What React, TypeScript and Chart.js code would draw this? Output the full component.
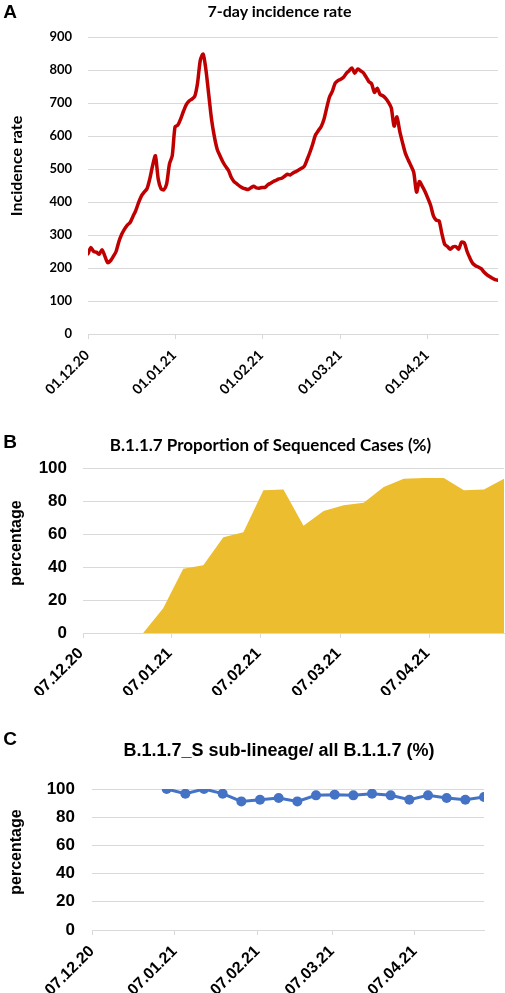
import React, { useEffect, useRef } from "react";
import { Chart, registerables } from "chart.js";

Chart.register(...registerables);

// ---------- Panel A: 7-day incidence rate (daily values from 01.12.20) ----------
const incidenceStart = "01.12.20";
const incidenceRate = [
  243, 262, 250, 248, 242, 255, 236, 216, 222, 235,
  250, 280, 302, 318, 330, 338, 356, 374, 398, 418,
  430, 440, 470, 510, 540, 470, 440, 437, 455, 515,
  540, 628, 633, 652, 675, 695, 706, 712, 720, 760,
  830, 848, 800, 725, 650, 598, 560, 540, 522, 508,
  496, 475, 462, 455, 448, 443, 440, 438, 443, 448,
  443, 442, 444, 444, 452, 457, 462, 466, 470, 472,
  478, 484, 482, 488, 492, 497, 502, 508, 528, 550,
  575, 603, 616, 628, 650, 685, 718, 735, 760, 768,
  772, 778, 790, 798, 806, 790, 803, 798, 792, 779,
  765, 758, 732, 745, 726, 722, 714, 702, 685, 630,
  658, 615, 580, 548, 528, 510, 490, 430, 462, 448,
  432, 412, 390, 358, 345, 343, 305, 272, 265, 257,
  264, 265, 257, 278, 276, 250, 230, 214, 207, 203,
  198, 188, 180, 174, 169, 165, 163,
];
const incidenceTickDates = ["01.12.20", "01.01.21", "01.02.21", "01.03.21", "01.04.21"];

// ---------- Panel B: B.1.1.7 proportion of sequenced cases (%) ----------
const b117Dates = [
  "28.12.20", "04.01.21", "11.01.21", "18.01.21", "25.01.21", "01.02.21", "08.02.21",
  "15.02.21", "22.02.21", "01.03.21", "08.03.21", "15.03.21", "22.03.21", "29.03.21",
  "05.04.21", "12.04.21", "19.04.21", "26.04.21", "03.05.21",
];
const b117Share = [0, 15, 39, 41, 58, 61, 86.5, 87, 65, 74, 77.5, 79, 88.5, 93.5, 94, 94, 86.5, 87, 93.5];

// ---------- Panel C: B.1.1.7_S sub-lineage / all B.1.1.7 (%) ----------
const subDates = [
  "04.01.21", "11.01.21", "18.01.21", "25.01.21", "01.02.21", "08.02.21", "15.02.21",
  "22.02.21", "01.03.21", "08.03.21", "15.03.21", "22.03.21", "29.03.21", "05.04.21",
  "12.04.21", "19.04.21", "26.04.21", "03.05.21",
];
const subShare = [100, 96.7, 100, 96.7, 91.2, 92.4, 93.6, 91.2, 95.5, 96, 95.5, 96.7, 95.5, 92.4, 95.5, 93.6, 92.4, 94.3];

const seqAxisStart = "07.12.20";
const seqAxisEnd = "03.05.21";
const seqTickDates = ["07.12.20", "07.01.21", "07.02.21", "07.03.21", "07.04.21"];

// ---------- helpers ----------
const DAY = 86400000;
function dayNum(s: string): number {
  const [d, m, y] = s.split(".").map(Number);
  return Math.round(Date.UTC(2000 + y, m - 1, d) / DAY);
}
function fmt(n: number): string {
  const dt = new Date(Math.round(n) * DAY);
  const p = (v: number) => String(v).padStart(2, "0");
  return `${p(dt.getUTCDate())}.${p(dt.getUTCMonth() + 1)}.${p(dt.getUTCFullYear() % 100)}`;
}

const GRID = "#d9d9d9";
const LATO = "Lato";
const ARIAL = "'Liberation Sans', Arial, sans-serif";

type OptParams = {
  top: number; right: number;
  xMin: number; xMax: number; xTicks: number[]; xHeight: number; xPad: number; xOffset: number; xFont: any;
  yMax: number; yStep: number; yWidth: number; yPad: number; yFont: any;
};

function buildOptions(p: OptParams): any {
  return {
    responsive: false,
    maintainAspectRatio: false,
    animation: false,
    devicePixelRatio: 1,
    layout: { padding: { top: p.top, right: p.right, left: 0, bottom: 0 } },
    plugins: { legend: { display: false }, tooltip: { enabled: false }, title: { display: false } },
    scales: {
      x: {
        type: "linear",
        min: p.xMin,
        max: p.xMax,
        afterBuildTicks: (s: any) => { s.ticks = p.xTicks.map((v) => ({ value: v })); },
        afterFit: (s: any) => { s.height = p.xHeight; },
        grid: { display: true, drawOnChartArea: false, drawTicks: true, tickLength: 5, color: GRID, lineWidth: 1 },
        border: { display: true, color: GRID, width: 1 },
        ticks: {
          autoSkip: false, maxRotation: 45, minRotation: 45,
          padding: p.xPad, labelOffset: p.xOffset, color: "#000", font: p.xFont,
          callback: (v: any) => fmt(Number(v)),
        },
      },
      y: {
        type: "linear",
        min: 0,
        max: p.yMax,
        afterFit: (s: any) => { s.width = p.yWidth; },
        grid: { color: GRID, drawTicks: false, lineWidth: 1 },
        border: { display: false },
        ticks: { stepSize: p.yStep, padding: p.yPad, color: "#000", font: p.yFont },
      },
    },
  };
}

function ChartCanvas({ config, top, height }: { config: any; top: number; height: number }) {
  const ref = useRef<HTMLCanvasElement | null>(null);
  useEffect(() => {
    if (!ref.current) return;
    const chart = new Chart(ref.current, config);
    return () => chart.destroy();
  }, []);
  return (
    <canvas
      ref={ref}
      width={505}
      height={height}
      style={{ position: "absolute", left: 0, top, width: 505, height, display: "block" }}
    />
  );
}

function Label({ text, x, y, font, rotate }: { text: string; x: number; y: number; font: string; rotate?: boolean }) {
  return (
    <div
      style={{
        position: "absolute", left: x, top: y, font, lineHeight: 1, whiteSpace: "nowrap", color: "#000",
        transform: `translate(-50%, -50%)${rotate ? " rotate(-90deg)" : ""}`,
      }}
    >
      {text}
    </div>
  );
}

export default function App() {
  const aStart = dayNum(incidenceStart);
  const configA = {
    type: "line",
    data: {
      datasets: [{
        data: incidenceRate.map((v, i) => ({ x: aStart + i, y: v })),
        borderColor: "#C00000", borderWidth: 3.5, pointRadius: 0, tension: 0.25, fill: false,
        borderJoinStyle: "round", borderCapStyle: "round",
      }],
    },
    options: buildOptions({
      top: 37, right: 7,
      xMin: aStart, xMax: aStart + incidenceRate.length - 1, xTicks: incidenceTickDates.map(dayNum),
      xHeight: 66, xPad: 8, xOffset: -1, xFont: { family: LATO, weight: "bold", size: 14 },
      yMax: 900, yStep: 100, yWidth: 88, yPad: 16, yFont: { family: LATO, weight: "bold", size: 13 },
    }),
  };

  const configB = {
    type: "line",
    data: {
      datasets: [{
        data: b117Dates.map((d, i) => ({ x: dayNum(d), y: b117Share[i] })),
        borderWidth: 0, borderColor: "rgba(0,0,0,0)", backgroundColor: "#EDBD30",
        pointRadius: 0, tension: 0, fill: "origin",
      }],
    },
    options: buildOptions({
      top: 68, right: 1,
      xMin: dayNum(seqAxisStart), xMax: dayNum(seqAxisEnd), xTicks: seqTickDates.map(dayNum),
      xHeight: 62, xPad: 6, xOffset: -2, xFont: { family: ARIAL, weight: "bold", size: 16 },
      yMax: 100, yStep: 20, yWidth: 83, yPad: 16, yFont: { family: ARIAL, weight: "bold", size: 17 },
    }),
  };

  const configC = {
    type: "line",
    data: {
      datasets: [{
        data: subDates.map((d, i) => ({ x: dayNum(d), y: subShare[i] })),
        borderColor: "#4472C4", borderWidth: 3, backgroundColor: "#4472C4",
        pointRadius: 5, pointBackgroundColor: "#4472C4", pointBorderWidth: 0, tension: 0, fill: false,
      }],
    },
    options: buildOptions({
      top: 94, right: 21,
      xMin: dayNum(seqAxisStart), xMax: dayNum(seqAxisEnd), xTicks: seqTickDates.map(dayNum),
      xHeight: 63, xPad: 7, xOffset: 0, xFont: { family: ARIAL, weight: "bold", size: 16 },
      yMax: 100, yStep: 20, yWidth: 92, yPad: 17, yFont: { family: ARIAL, weight: "bold", size: 17 },
    }),
  };

  return (
    <div style={{ position: "absolute", left: 0, top: 0, width: 505, height: 993, background: "#fff", overflow: "hidden" }}>
      <ChartCanvas config={configA} top={0} height={400} />
      <ChartCanvas config={configB} top={400} height={295} />
      <ChartCanvas config={configC} top={695} height={298} />

      <Label text="A" x={10} y={11} font={`bold 19px ${ARIAL}`} />
      <Label text="7-day incidence rate" x={279.5} y={10.5} font={`bold 16px ${LATO}`} />
      <Label text="Incidence rate" x={16} y={166} font={`bold 16px ${LATO}`} rotate />

      <Label text="B" x={10} y={441} font={`bold 19px ${ARIAL}`} />
      <Label text="B.1.1.7 Proportion of Sequenced Cases (%)" x={270.5} y={443.5} font={`bold 17px ${LATO}`} />
      <Label text="percentage" x={15.5} y={542.5} font={`bold 16px ${ARIAL}`} rotate />

      <Label text="C" x={10} y={738} font={`bold 19px ${ARIAL}`} />
      <Label text="B.1.1.7_S sub-lineage/ all B.1.1.7 (%)" x={279} y={750} font={`bold 18px ${ARIAL}`} />
      <Label text="percentage" x={15.5} y={852} font={`bold 16px ${ARIAL}`} rotate />
    </div>
  );
}
